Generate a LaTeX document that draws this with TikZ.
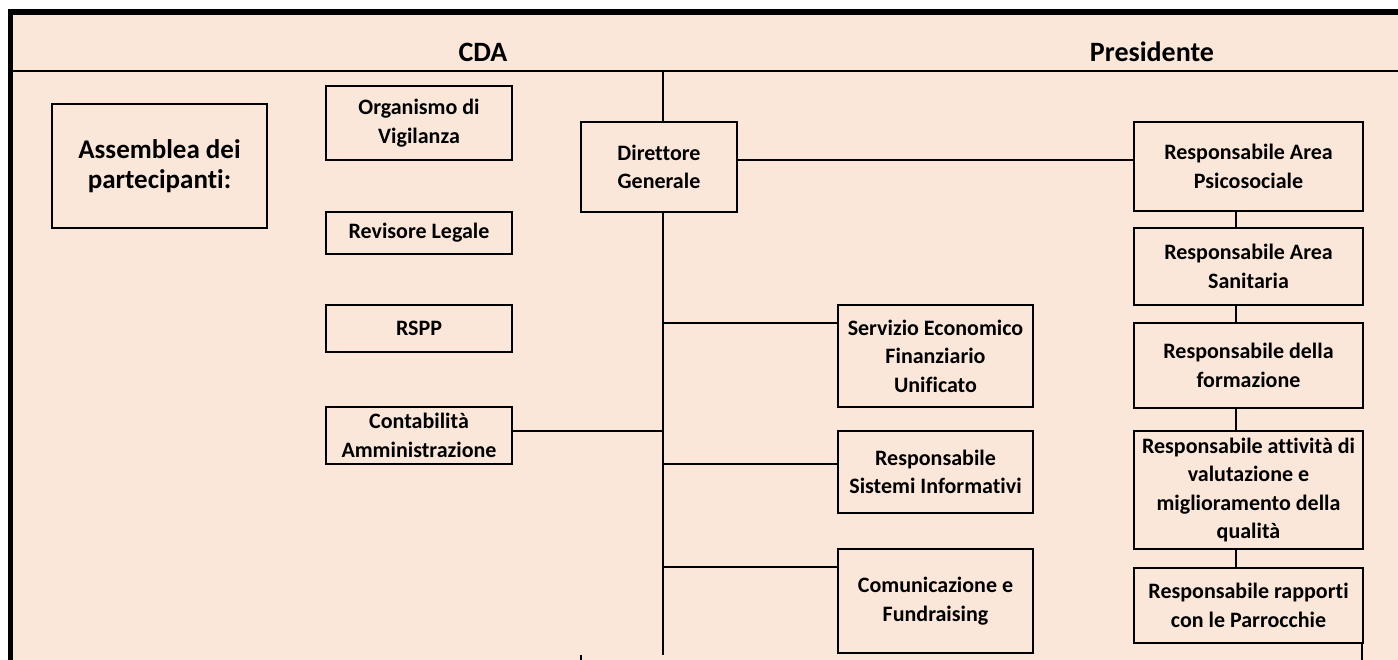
\documentclass[tikz,border=0pt]{standalone}
\usepackage{fontspec}
\setmainfont{Carlito}[Ligatures=CommonOff]
\definecolor{peach}{HTML}{FBE7DA}
\begin{document}
\begin{tikzpicture}[x=1pt,y=-1pt,
  box/.style={draw=black, line width=1.2pt, inner sep=0pt, align=center,
    font=\fontsize{22}{28.5}\selectfont\bfseries},
  ttl/.style={font=\fontsize{28}{32}\selectfont\bfseries, anchor=base, inner sep=0pt},
  conn/.style={draw=black, line width=1.2pt}]
\useasboundingbox (0,0) rectangle (1398,660);
\fill[white] (0,0) rectangle (1398,660);
\fill[peach] (13,15) rectangle (1398,660);
\fill[black] (8,9) rectangle (13,660);
\fill[black] (8,9) rectangle (1398,15);
\draw[conn] (13,71) -- (1398,71);

\node[ttl] (cda) at (483,62) {CDA};
\node[ttl] (pres) at (1152,62) {Presidente};

\node[box, minimum width=215pt, minimum height=124pt, font=\fontsize{27}{30}\selectfont\bfseries] (ass) at (159.5,166) {Assemblea dei\\partecipanti:};
\node[box, minimum width=186pt, minimum height=74pt] (org) at (419,123) {Organismo di\\Vigilanza};
\node[box, minimum width=186pt, minimum height=42pt] (rev) at (419,233) {Revisore Legale};
\node[box, minimum width=186pt, minimum height=47pt] (rspp) at (419,328.5) {RSPP};
\node[box, minimum width=186pt, minimum height=57pt] (cont) at (419,435.5) {Contabilità\\Amministrazione};
\node[box, minimum width=156pt, minimum height=90pt] (dg) at (659,167) {Direttore\\Generale};
\node[box, minimum width=195pt, minimum height=102pt] (serv) at (935.5,356) {Servizio Economico\\Finanziario\\Unificato};
\node[box, minimum width=195pt, minimum height=82pt] (sist) at (935.5,472) {Responsabile\\Sistemi Informativi};
\node[box, minimum width=195pt, minimum height=104pt] (com) at (935.5,601) {Comunicazione e\\Fundraising};
\node[box, minimum width=229pt, minimum height=89pt] (psi) at (1248.5,166.5) {Responsabile Area\\Psicosociale};
\node[box, minimum width=229pt, minimum height=77pt] (san) at (1248.5,266.5) {Responsabile Area\\Sanitaria};
\node[box, minimum width=229pt, minimum height=85pt] (form) at (1248.5,365.5) {Responsabile della\\formazione};
\node[box, minimum width=229pt, minimum height=118pt] (att) at (1248.5,490) {Responsabile attività di\\valutazione e\\miglioramento della\\qualità};
\node[box, minimum width=229pt, minimum height=75pt] (par) at (1248.5,605.5) {Responsabile rapporti\\con le Parrocchie};

% main vertical spine
\coordinate (vtop) at (663,71);
\coordinate (vbot) at (663,655);
\draw[conn] (vtop) -- (vtop |- dg.north);
\draw[conn] (vbot |- dg.south) -- (vbot);
% branches
\coordinate (b0) at (663,431);
\coordinate (b1) at (663,323);
\coordinate (b2) at (663,464);
\coordinate (b3) at (663,567);
\draw[conn] (b0) -- (b0 -| cont.east);
\draw[conn] (b1) -- (b1 -| serv.west);
\draw[conn] (b2) -- (b2 -| sist.west);
\draw[conn] (b3) -- (b3 -| com.west);
% DG to right column
\coordinate (c0) at (737,160);
\draw[conn] (c0 -| dg.east) -- (c0 -| psi.west);
% right column chain
\coordinate (rx) at (1236,0);
\draw[conn] (rx |- psi.south) -- (rx |- san.north);
\draw[conn] (rx |- san.south) -- (rx |- form.north);
\draw[conn] (rx |- form.south) -- (rx |- att.north);
\draw[conn] (rx |- att.south) -- (rx |- par.north);
% bottom stubs
\coordinate (pe) at (1362,660);
\draw[draw=black, line width=2pt] (pe |- par.south) -- (pe);
\coordinate (tk1) at (581,655);
\coordinate (tk2) at (581,660);
\draw[draw=black, line width=2pt] (tk1) -- (tk2);
\end{tikzpicture}
\end{document}
